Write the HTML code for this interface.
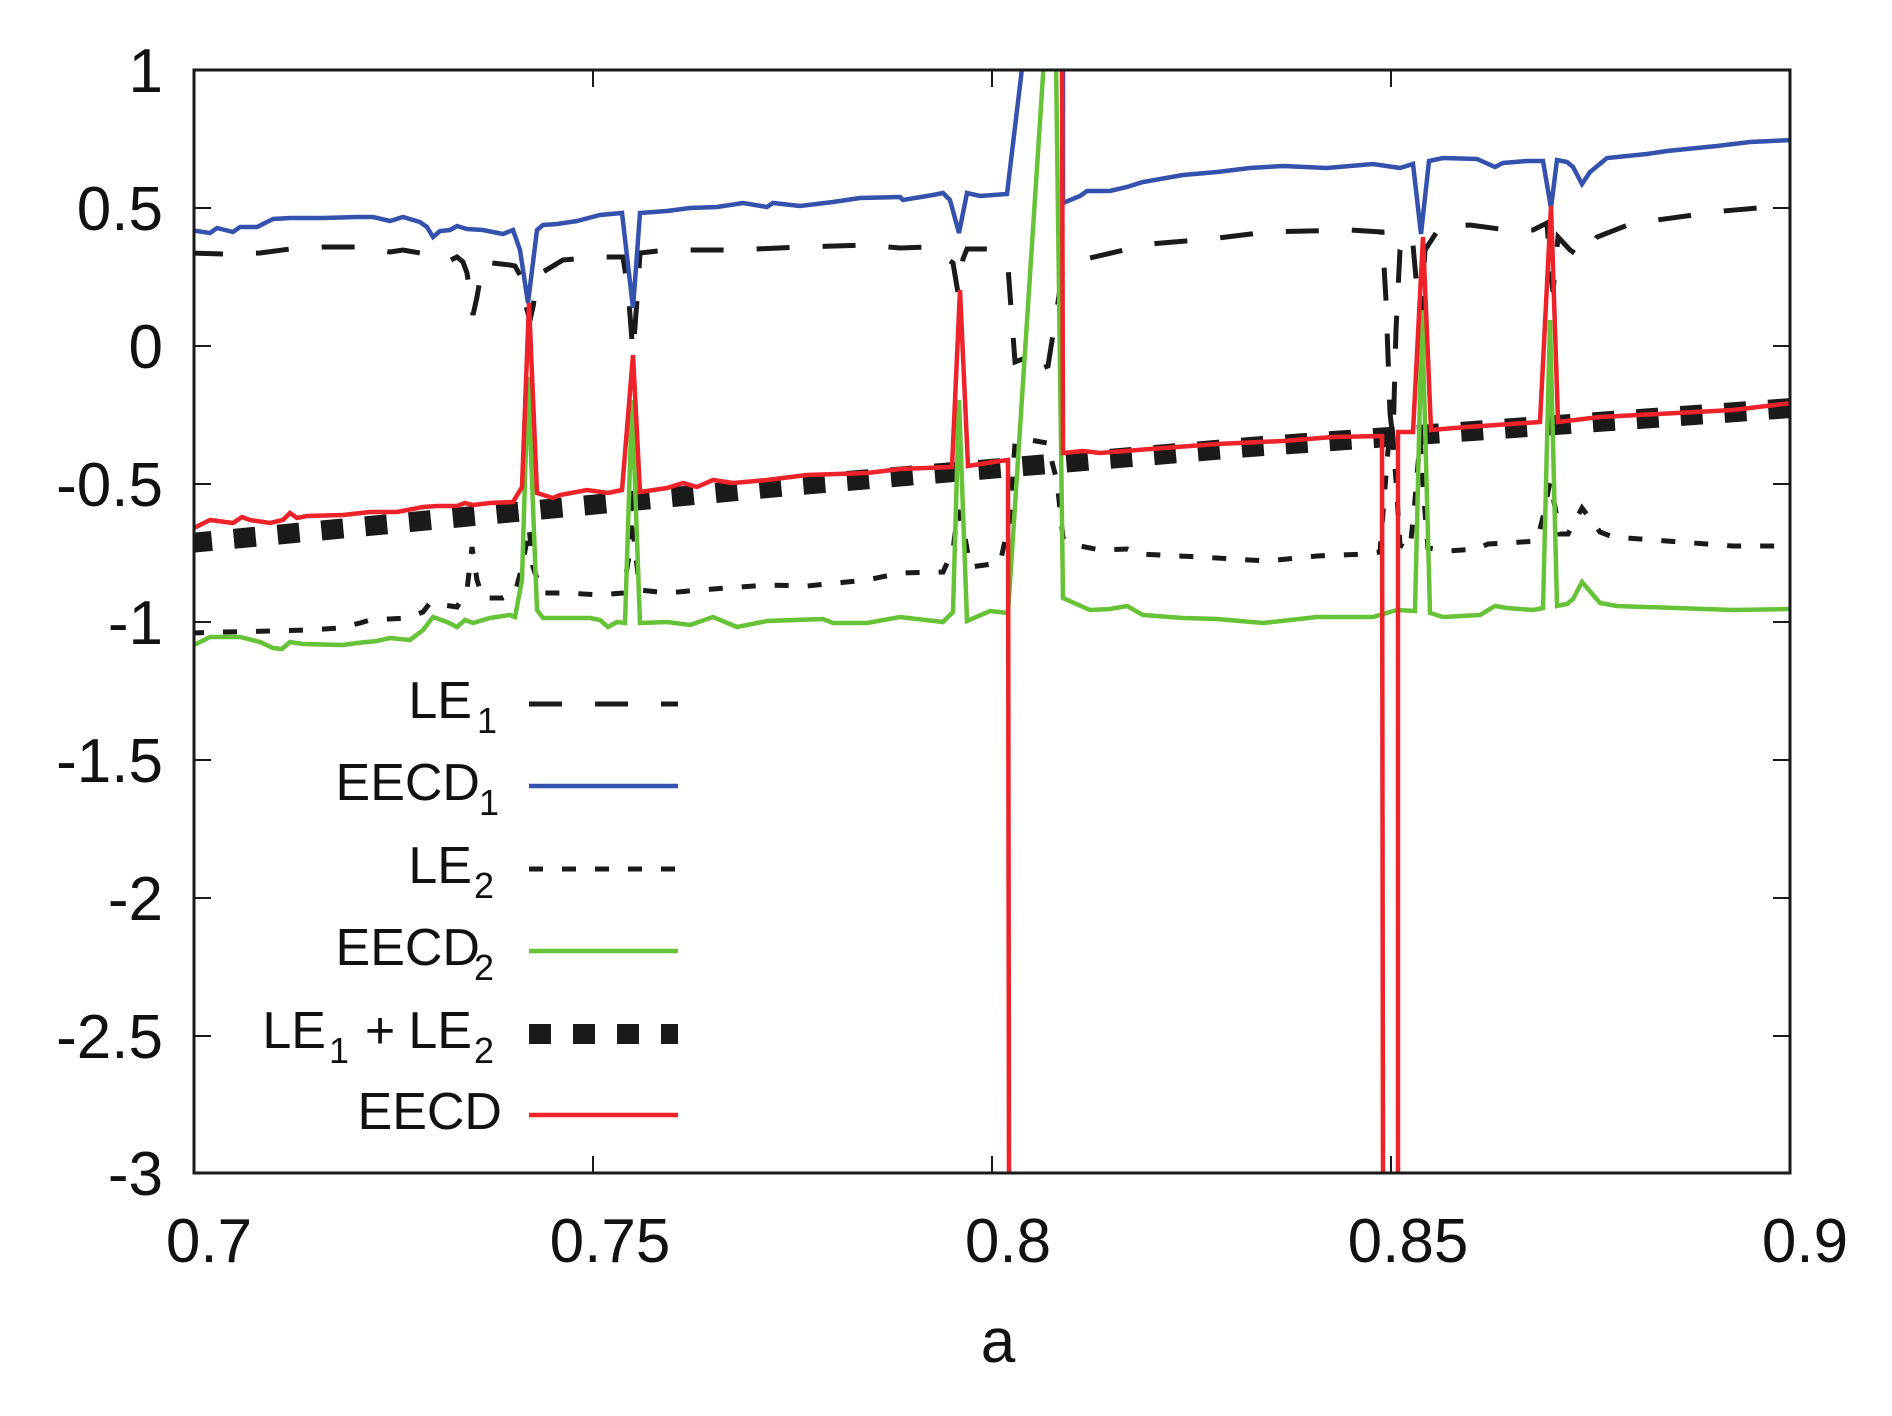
<!DOCTYPE html>
<html><head><meta charset="utf-8"><style>html,body{margin:0;padding:0;background:#fff}svg{display:block}</style></head>
<body>
<svg width="1892" height="1416" viewBox="0 0 1892 1416" xmlns="http://www.w3.org/2000/svg" font-family="Liberation Sans, Arial, sans-serif">
<defs><clipPath id="c"><rect x="194" y="70" width="1596" height="1103"/></clipPath></defs>
<rect width="1892" height="1416" fill="#fff"/>
<g clip-path="url(#c)" fill="none" stroke-linejoin="miter">
<!-- LE1+LE2 thick -->
<polyline stroke="#1a1a1a" stroke-width="20" stroke-dasharray="22 22" points="190,543 800,485 1250,447 1792,408"/>
<!-- LE1 -->
<polyline stroke="#1a1a1a" stroke-width="5" stroke-dasharray="33 33" points="190,253 223,254 260,253 290,249 323,247 357,247 390,252 403,250 420,253 447,262 457,257 463,262 467,273 473,315 477,297 483,262 510,265 515,266 520,275 527,310 530,320 533,307 538,275 563,260 600,257 623,257 628,290 633,353 637,300 640,253 667,250 733,250 800,247 867,245 900,248 930,247 953,263 958,293 963,259 967,249 987,249 1008,267 1015,362 1033,355 1038,370 1048,366 1057,309 1063,268 1090,258 1150,244 1210,239 1267,232 1350,230 1382,232 1386,300 1390,413 1393,440 1396,330 1400,250 1405,237 1412,234 1418,300 1421,320 1425,250 1440,227 1470,225 1507,230 1533,230 1547,223 1550,265 1553,292 1558,237 1570,250 1582,258 1597,237 1633,223 1657,220 1723,211 1758,208 1792,206"/>
<!-- LE2 -->
<polyline stroke="#1a1a1a" stroke-width="5" stroke-dasharray="14 19" points="190,633 223,632 273,631 307,630 340,628 360,623 370,620 407,618 423,612 430,603 457,607 467,590 472,547 477,580 483,598 503,598 515,593 523,563 529,527 533,567 542,593 567,593 600,595 623,593 630,550 632,517 635,550 640,590 667,593 700,590 767,585 807,586 867,580 900,573 943,572 953,550 958,510 965,537 970,567 1000,563 1010,519 1015,443 1030,440 1047,443 1057,481 1063,538 1070,544 1100,550 1127,549 1140,554 1200,557 1267,561 1317,556 1367,554 1380,552 1384,500 1388,450 1392,430 1396,480 1400,545 1410,550 1415,500 1420,440 1424,500 1428,548 1447,551 1477,549 1488,544 1507,543 1537,541 1543,517 1550,482 1557,517 1560,534 1568,534 1582,508 1600,532 1613,537 1640,539 1667,541 1733,546 1792,546"/>
<!-- EECD1 blue -->
<polyline stroke="#3452ad" stroke-width="4.5" points="190,230 210,233 217,228 233,232 240,227 257,227 273,219 290,218 323,218 357,217 373,217 390,221 403,217 420,222 427,227 433,237 440,231 450,230 457,226 467,229 483,230 503,234 513,230 520,250 528,303 537,230 543,225 557,224 577,221 600,215 622,213 633,308 640,213 667,211 690,208 717,207 743,203 767,207 773,203 800,206 833,202 860,198 900,197 903,200 933,195 943,193 950,200 959,233 967,193 980,196 1007,194 1023,60"/>
<polyline stroke="#3452ad" stroke-width="4.5" points="1063,60 1063,203 1080,196 1087,191 1110,191 1127,187 1143,182 1183,175 1217,172 1250,168 1283,166 1327,168 1373,164 1400,168 1413,164 1421,234 1429,161 1443,158 1477,159 1495,167 1503,163 1527,161 1543,161 1551,208 1557,160 1567,162 1573,167 1582,184 1590,172 1607,158 1647,154 1667,151 1717,146 1750,142 1792,140"/>
<!-- EECD2 green -->
<polyline stroke="#66c236" stroke-width="4.5" points="190,647 210,637 240,637 260,642 273,648 282,649 290,642 303,644 343,645 357,643 377,641 390,638 410,640 423,630 433,617 447,622 457,627 465,620 473,623 490,618 510,615 515,617 522,580 528,377 537,610 543,618 590,618 600,620 608,627 617,622 625,623 632,400 640,623 667,622 690,625 713,617 737,627 767,621 823,619 833,623 867,623 900,617 943,622 953,612 959,400 967,621 990,611 1008,613 1044,60"/>
<polyline stroke="#66c236" stroke-width="4.5" points="1056,60 1063,598 1090,610 1110,609 1127,606 1143,615 1183,618 1217,619 1263,623 1317,617 1373,617 1397,610 1415,611 1422,310 1430,613 1443,617 1480,615 1495,606 1507,608 1533,610 1543,608 1550,320 1557,606 1567,604 1573,599 1582,582 1600,603 1617,606 1733,610 1792,609"/>
<!-- EECD red -->
<polyline stroke="#ee2229" stroke-width="4.5" points="190,530 210,520 233,523 242,517 250,520 270,523 283,520 290,513 297,518 307,516 343,515 370,512 397,512 423,507 437,506 457,506 465,503 473,505 490,503 513,502 522,487 529,303 537,493 553,498 560,495 587,490 608,493 622,490 633,355 640,492 667,488 683,483 697,487 713,480 733,483 767,480 807,475 867,473 900,469 952,467 960,290 968,466 993,462 1008,460 1009,1180"/>
<polyline stroke="#ee2229" stroke-width="4.5" points="1062,60 1063,453 1083,451 1100,453 1150,449 1217,444 1283,441 1333,437 1382,436 1383,1180"/>
<polyline stroke="#ee2229" stroke-width="4.5" points="1398,1180 1398,432 1413,432 1423,237 1431,430 1467,427 1540,422 1551,206 1558,422 1600,417 1733,410 1792,403"/>
</g>
<!-- frame -->
<rect x="194" y="70" width="1596" height="1103" fill="none" stroke="#1a1a1a" stroke-width="3"/>
<g stroke="#1a1a1a" stroke-width="2">
<path d="M194,208h17M194,346h17M194,484h17M194,622h17M194,760h17M194,898h17M194,1036h17M1790,208h-17M1790,346h-17M1790,484h-17M1790,622h-17M1790,760h-17M1790,898h-17M1790,1036h-17"/>
<path d="M593,1173v-17M992,1173v-17M1391,1173v-17M593,70v17M992,70v17M1391,70v17"/>
</g>
<g font-size="62" fill="#111" text-anchor="end">
<text x="163" y="92">1</text>
<text x="163" y="230">0.5</text>
<text x="163" y="368">0</text>
<text x="163" y="506">-0.5</text>
<text x="163" y="644">-1</text>
<text x="163" y="782">-1.5</text>
<text x="163" y="920">-2</text>
<text x="163" y="1058">-2.5</text>
<text x="163" y="1195">-3</text>
</g>
<g font-size="62" fill="#111" text-anchor="middle">
<text x="209" y="1262">0.7</text>
<text x="610" y="1262">0.75</text>
<text x="1008" y="1262">0.8</text>
<text x="1408" y="1262">0.85</text>
<text x="1805" y="1262">0.9</text>
<text x="998" y="1362">a</text>
</g>
<!-- legend -->
<g fill="#111">
<text x="472" y="718" font-size="52" text-anchor="end">LE</text><text x="477" y="733" font-size="36">1</text>
<text x="480" y="800" font-size="52" text-anchor="end">EECD</text><text x="479" y="815" font-size="36">1</text>
<text x="472" y="883" font-size="52" text-anchor="end">LE</text><text x="474" y="898" font-size="36">2</text>
<text x="480" y="965" font-size="52" text-anchor="end">EECD</text><text x="474" y="980" font-size="36">2</text>
<text x="326" y="1048" font-size="52" text-anchor="end">LE</text><text x="329" y="1063" font-size="36">1</text>
<text x="380" y="1048" font-size="52" text-anchor="middle">+</text>
<text x="472" y="1048" font-size="52" text-anchor="end">LE</text><text x="474" y="1063" font-size="36">2</text>
<text x="502" y="1129" font-size="52" text-anchor="end">EECD</text>
</g>
<g fill="none">
<line x1="529" y1="704" x2="678" y2="704" stroke="#1a1a1a" stroke-width="5" stroke-dasharray="33 33"/>
<line x1="529" y1="786" x2="678" y2="786" stroke="#3452ad" stroke-width="4.5"/>
<line x1="529" y1="869" x2="678" y2="869" stroke="#1a1a1a" stroke-width="5" stroke-dasharray="14 19"/>
<line x1="529" y1="951" x2="678" y2="951" stroke="#66c236" stroke-width="4.5"/>
<line x1="529" y1="1034" x2="678" y2="1034" stroke="#1a1a1a" stroke-width="20" stroke-dasharray="22 22"/>
<line x1="529" y1="1115" x2="678" y2="1115" stroke="#ee2229" stroke-width="4.5"/>
</g>
</svg>
</body></html>
